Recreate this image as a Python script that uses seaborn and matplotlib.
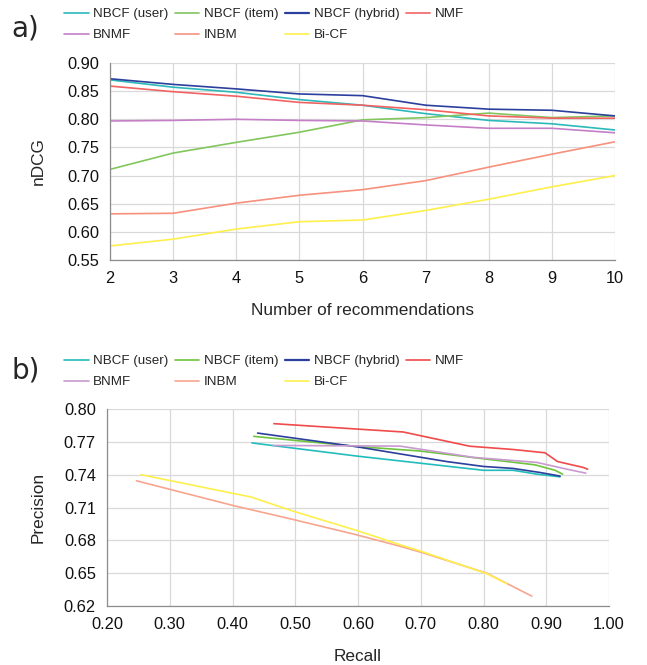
import numpy as np
import pandas as pd
import matplotlib
matplotlib.use('Agg')
import matplotlib.pyplot as plt
import seaborn as sns

# ─────────────────────────────────────────
# 1. DATA
# ─────────────────────────────────────────
methods = ['NBCF (user)', 'NBCF (item)', 'NBCF (hybrid)', 'NMF', 'BNMF', 'INBM', 'Bi-CF']

n_recs = [2, 3, 4, 5, 6, 7, 8, 9, 10]
ndcg_user   = [0.870, 0.857, 0.848, 0.835, 0.825, 0.810, 0.798, 0.792, 0.781]
ndcg_item   = [0.711, 0.740, 0.759, 0.777, 0.799, 0.803, 0.811, 0.803, 0.806]
ndcg_hybrid = [0.872, 0.862, 0.854, 0.845, 0.842, 0.825, 0.818, 0.816, 0.806]
ndcg_nmf    = [0.859, 0.849, 0.841, 0.830, 0.825, 0.817, 0.806, 0.802, 0.802]
ndcg_bnmf   = [0.797, 0.798, 0.800, 0.798, 0.797, 0.790, 0.784, 0.784, 0.776]
ndcg_inbm   = [0.632, 0.633, 0.651, 0.665, 0.675, 0.691, 0.715, 0.738, 0.760]
ndcg_bicf   = [0.575, 0.587, 0.605, 0.618, 0.621, 0.638, 0.658, 0.680, 0.700]

rec_user   = [0.431, 0.598, 0.800, 0.847, 0.885, 0.922]
prec_user  = [0.769, 0.757, 0.744, 0.744, 0.7405, 0.738]
rec_item   = [0.434, 0.603, 0.699, 0.800, 0.882, 0.914, 0.926]
prec_item  = [0.775, 0.7655, 0.7616, 0.7545, 0.749, 0.744, 0.7405]
rec_hybrid = [0.440, 0.598, 0.741, 0.800, 0.847, 0.890, 0.922]
prec_hybrid = [0.778, 0.7655, 0.752, 0.7475, 0.7457, 0.742, 0.7387]
rec_nmf    = [0.466, 0.598, 0.672, 0.778, 0.847, 0.898, 0.918, 0.959, 0.966]
prec_nmf   = [0.7866, 0.7817, 0.779, 0.766, 0.763, 0.760, 0.752, 0.7466, 0.745]
rec_bnmf   = [0.465, 0.667, 0.784, 0.885, 0.933, 0.963]
prec_bnmf  = [0.7667, 0.7661, 0.7558, 0.7512, 0.745, 0.7414]
rec_inbm   = [0.247, 0.401, 0.497, 0.598, 0.667, 0.704, 0.805, 0.877]
prec_inbm  = [0.7344, 0.7118, 0.699, 0.685, 0.6746, 0.6685, 0.650, 0.629]
rec_bicf   = [0.254, 0.430, 0.497, 0.598, 0.667, 0.699, 0.805, 0.837]
prec_bicf  = [0.740, 0.7195, 0.7066, 0.689, 0.676, 0.6703, 0.6496, 0.6404]

# ─────────────────────────────────────────
# 2. TIDY FRAMES
# ─────────────────────────────────────────
ndcg_series = [ndcg_user, ndcg_item, ndcg_hybrid, ndcg_nmf, ndcg_bnmf, ndcg_inbm, ndcg_bicf]
df_a = pd.concat([pd.DataFrame({'n': n_recs, 'ndcg': s, 'method': m})
                  for m, s in zip(methods, ndcg_series)], ignore_index=True)

pr_series = [(rec_user, prec_user), (rec_item, prec_item), (rec_hybrid, prec_hybrid),
             (rec_nmf, prec_nmf), (rec_bnmf, prec_bnmf), (rec_inbm, prec_inbm),
             (rec_bicf, prec_bicf)]
df_b = pd.concat([pd.DataFrame({'recall': r, 'precision': p, 'method': m})
                  for m, (r, p) in zip(methods, pr_series)], ignore_index=True)

pal_a = ['#2cb9b9', '#82c65e', '#2b3f9c', '#f26262', '#c47fc6', '#f7917e', '#fdf04c']
pal_b = ['#22bcbc', '#6ec43c', '#2b3f9c', '#f04a4a', '#c89ad0', '#f8a58f', '#fdf04c']

# ─────────────────────────────────────────
# 3. PLOT
# ─────────────────────────────────────────
sns.set_style('white')
plt.rcParams['font.family'] = ['Liberation Sans', 'DejaVu Sans']

fig = plt.figure(figsize=(6.47, 6.65), dpi=100)
W, H = 647, 665

def box(l, t, r, b):
    return [l / W, 1 - b / H, (r - l) / W, (b - t) / H]

ax_a = fig.add_axes(box(110, 63, 615, 260))
ax_b = fig.add_axes(box(107, 409, 609, 606))

def style_ax(ax):
    ax.grid(True, color='#d9d9d9', lw=0.9)
    for s in ['top', 'right']:
        ax.spines[s].set_visible(False)
    for s in ['left', 'bottom']:
        ax.spines[s].set_color('#8c8c8c')
        ax.spines[s].set_linewidth(0.9)
    ax.tick_params(axis='both', which='both', direction='out', length=4.5,
                   color='#8c8c8c', width=0.9, labelsize=11.8, labelcolor='#111111', pad=3.5)

sns.lineplot(data=df_a, x='n', y='ndcg', hue='method', hue_order=methods,
             palette=pal_a, ax=ax_a, lw=1.2, sort=False, legend=True)
sns.lineplot(data=df_b, x='recall', y='precision', hue='method', hue_order=methods,
             palette=pal_b, ax=ax_b, lw=1.2, sort=False, legend=True)

for ax in (ax_a, ax_b):
    for line in ax.get_lines():
        if line.get_label() == 'NBCF (hybrid)':
            line.set_linewidth(1.6)

ax_a.set_xlim(2, 10)
ax_a.set_ylim(0.55, 0.90)
ax_a.set_xticks(n_recs)
yt_a = np.arange(0.55, 0.901, 0.05)
ax_a.set_yticks(yt_a)
ax_a.set_yticklabels([f'{v:.2f}' for v in yt_a])
ax_a.set_xlabel('Number of recommendations', fontsize=12.4, labelpad=12)
ax_a.set_ylabel('nDCG', fontsize=12.4, labelpad=15)

ax_b.set_xlim(0.2, 1.0)
ax_b.set_ylim(0.62, 0.80)
xt = np.arange(0.2, 1.001, 0.1)
ax_b.set_xticks(xt)
ax_b.set_xticklabels([f'{v:.2f}' for v in xt])
yt = np.arange(0.62, 0.801, 0.03)
ax_b.set_yticks(yt)
ax_b.set_yticklabels([f'{v:.2f}' for v in yt])
ax_b.set_xlabel('Recall', fontsize=12.4, labelpad=12)
ax_b.set_ylabel('Precision', fontsize=12.4, labelpad=13)

for ax in (ax_a, ax_b):
    style_ax(ax)

# Legends above each panel (row-wise order via column-major reorder)
order = [0, 4, 1, 5, 2, 6, 3]
for ax, ytop, label, ylab in [(ax_a, 8, 'a)', 29), (ax_b, 355, 'b)', 371)]:
    handles, labels = ax.get_legend_handles_labels()
    ax.get_legend().remove()
    fig.legend([handles[i] for i in order], [labels[i] for i in order],
               loc='upper left', bbox_to_anchor=(64 / W, 1 - ytop / H),
               ncol=4, frameon=False, fontsize=9.6, handlelength=1.85,
               handletextpad=0.35, columnspacing=0.45, labelspacing=0.65,
               borderpad=0, borderaxespad=0)
    fig.text(11 / W, 1 - ylab / H, label, fontsize=20, va='center', ha='left',
             family=['DejaVu Sans'])

plt.savefig('out.png', dpi=100)
